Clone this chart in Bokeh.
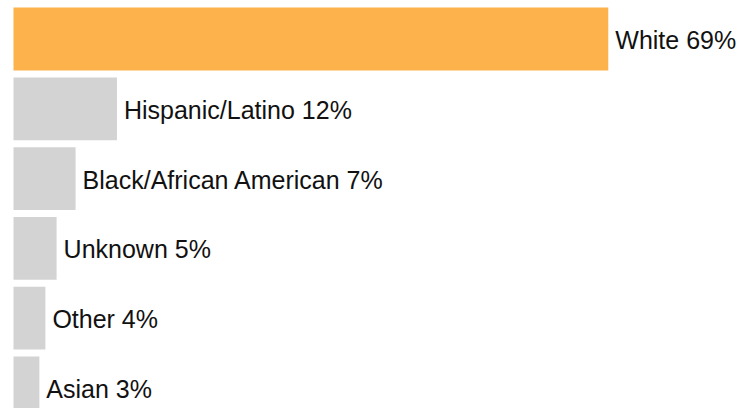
from bokeh.plotting import figure
from bokeh.models import ColumnDataSource, Range1d
from bokeh.core.properties import value
from bokeh.embed import file_html
from bokeh.resources import INLINE

categories = ["White", "Hispanic/Latino", "Black/African American", "Unknown", "Other", "Asian"]
percents = [69, 12, 7.2, 5, 3.7, 3]
pct_labels = ["69%", "12%", "7%", "5%", "4%", "3%"]
colors = ["#FDB24B", "#D3D3D3", "#D3D3D3", "#D3D3D3", "#D3D3D3", "#D3D3D3"]

rows = list(range(len(categories)))
labels = [f"{c} {l}" for c, l in zip(categories, pct_labels)]

src = ColumnDataSource(dict(y=rows, v=percents, color=colors, label=labels))

W, H = 739, 408
px_per_unit = 8.62
row_px = 69.8
x0_px = 13
y0_px = 38.5

p = figure(width=W, height=H, output_backend="svg", toolbar_location=None,
           x_range=Range1d(-x0_px / px_per_unit, (W - x0_px) / px_per_unit),
           y_range=Range1d(-y0_px / row_px + H / row_px, -y0_px / row_px),
           min_border=0, min_border_left=0, min_border_right=0,
           min_border_top=0, min_border_bottom=0)
p.axis.visible = False
p.grid.visible = False
p.outline_line_color = None
p.background_fill_color = "white"
p.border_fill_color = "white"

p.hbar(y="y", left=0, right="v", height=0.9, fill_color="color", line_color=None, source=src)
p.text(x="v", y="y", text="label", source=src, x_offset=7, y_offset=1,
       text_font=value("Liberation Sans"), text_font_size="25px",
       text_baseline="middle", text_align="left", text_color="#111111")

open("out.html", "w").write(file_html(p, INLINE))
